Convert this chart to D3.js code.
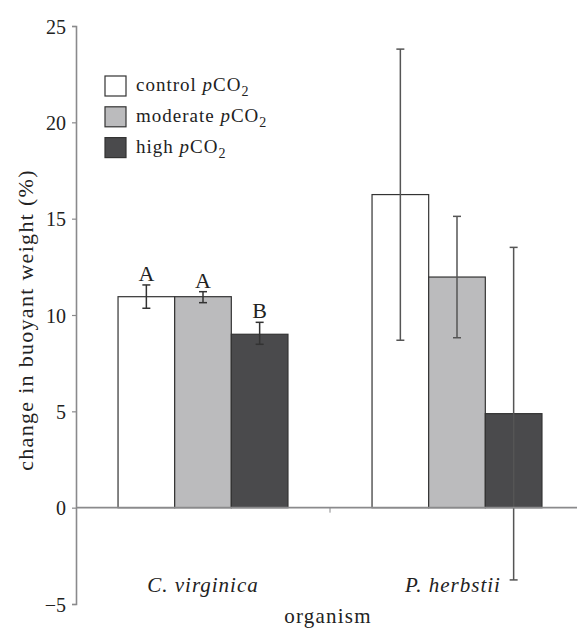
<!DOCTYPE html>
<html>
<head>
<meta charset="utf-8">
<script src="https://cdn.jsdelivr.net/npm/d3@7"></script>
<style>
  body { margin: 0; background: #fff; }
  text { font-family: "Liberation Serif", "Times New Roman", serif; fill: #222; }
</style>
</head>
<body>
<div id="chart"></div>
<script>
// data
const organisms = ["C. virginica", "P. herbstii"];
const treatments = ["control", "moderate", "high"];
const means = [
  [10.95, 10.95, 9.0],
  [16.25, 11.97, 4.88]
];
const errLow = [
  [10.35, 10.64, 8.48],
  [8.69, 8.82, -3.75]
];
const errHigh = [
  [11.56, 11.21, 9.62],
  [23.8, 15.12, 13.51]
];
const letters = [["A", "A", "B"], ["", "", ""]];
const yTicks = [-5, 0, 5, 10, 15, 20, 25];

const fills = { control: "#ffffff", moderate: "#bbbbbd", high: "#4a4a4c" };

const width = 577, height = 630;

const svg = d3.select("#chart").append("svg")
  .attr("width", width)
  .attr("height", height);

// scales
const y = d3.scaleLinear().domain([-5, 25]).range([604, 26]);
const x0 = d3.scaleBand().domain(organisms).range([76, 584])
  .paddingInner(0.331).paddingOuter(0.1655);
const x1 = d3.scaleBand().domain(treatments).range([0, x0.bandwidth()]);

// y axis
const yAxis = svg.append("g")
  .attr("transform", "translate(76,0)")
  .call(d3.axisLeft(y).tickValues(yTicks).tickSize(4).tickPadding(6)
    .tickFormat(d => d < 0 ? "\u2212" + Math.abs(d) : d));
yAxis.attr("font-family", null);
yAxis.select(".domain").attr("stroke", "#8a8a8c").attr("stroke-width", 1.6);
yAxis.selectAll(".tick line").attr("stroke", "#8a8a8c").attr("stroke-width", 1.2);
yAxis.selectAll(".tick text")
  .style("font-size", "20px").attr("fill", "#222").attr("dy", "0.36em");

// bars
const groups = svg.selectAll("g.org").data(organisms).join("g")
  .attr("class", "org")
  .attr("transform", d => "translate(" + x0(d) + ",0)");

groups.each(function (org, i) {
  const g = d3.select(this);
  const rows = treatments.map((t, j) => ({ t: t, v: means[i][j] }));

  g.selectAll("rect").data(rows).join("rect")
    .attr("x", d => x1(d.t))
    .attr("width", x1.bandwidth())
    .attr("y", d => y(d.v))
    .attr("height", d => y(0) - y(d.v))
    .attr("fill", d => fills[d.t])
    .attr("stroke", "#333")
    .attr("stroke-width", 1.2);
});

// x axis line at zero
svg.append("line")
  .attr("x1", 76).attr("x2", width)
  .attr("y1", y(0)).attr("y2", y(0))
  .attr("stroke", "#8a8a8c").attr("stroke-width", 1.6);
// separator tick between groups
const mid = (x0(organisms[0]) + x0.bandwidth() + x0(organisms[1])) / 2;
svg.append("line")
  .attr("x1", mid).attr("x2", mid)
  .attr("y1", y(0)).attr("y2", y(0) + 5)
  .attr("stroke", "#8a8a8c").attr("stroke-width", 1);

// error bars + letters
groups.each(function (org, i) {
  const g = d3.select(this);
  const col = i === 0 ? "#333" : "#555";
  treatments.forEach((t, j) => {
    const cx = x1(t) + x1.bandwidth() / 2;
    const lo = y(errLow[i][j]), hi = y(errHigh[i][j]);
    g.append("line").attr("x1", cx).attr("x2", cx).attr("y1", lo).attr("y2", hi)
      .attr("stroke", col).attr("stroke-width", 1.5);
    [lo, hi].forEach(yy => {
      g.append("line").attr("x1", cx - 4).attr("x2", cx + 4).attr("y1", yy).attr("y2", yy)
        .attr("stroke", col).attr("stroke-width", 1.5);
    });
    if (letters[i][j]) {
      g.append("text").attr("x", cx).attr("y", hi - 4)
        .attr("text-anchor", "middle")
        .style("font-size", "22px")
        .text(letters[i][j]);
    }
  });
});

// category labels
svg.selectAll("text.cat").data(organisms).join("text")
  .attr("class", "cat")
  .attr("x", (d, i) => x0(d) + x0.bandwidth() / 2 - (i === 1 ? 4 : 0))
  .attr("y", 592)
  .attr("text-anchor", "middle")
  .style("font-size", "21px")
  .style("letter-spacing", "1px")
  .style("font-style", "italic")
  .text(d => d);

// axis titles
svg.append("text")
  .attr("x", 328).attr("y", 623)
  .attr("text-anchor", "middle")
  .style("font-size", "21px")
  .style("letter-spacing", "1.2px")
  .text("organism");

svg.append("text")
  .attr("transform", "translate(33,320) rotate(-90)")
  .attr("text-anchor", "middle")
  .style("font-size", "22px")
  .style("letter-spacing", "1.3px")
  .text("change in buoyant weight (%)");

// legend
const legendNames = { control: "control ", moderate: "moderate ", high: "high " };
const legend = svg.append("g").attr("transform", "translate(105,76)");
treatments.forEach((t, j) => {
  const row = legend.append("g").attr("transform", "translate(0," + (j * 30.8) + ")");
  row.append("rect").attr("width", 21).attr("height", 20)
    .attr("fill", fills[t]).attr("stroke", "#333").attr("stroke-width", 1.2);
  const tx = row.append("text").attr("x", 31).attr("y", 15)
    .style("font-size", "19px").style("letter-spacing", "1px");
  tx.append("tspan").text(legendNames[t]);
  tx.append("tspan").style("font-style", "italic").text("p");
  tx.append("tspan").text("CO");
  tx.append("tspan").attr("dy", 5).style("font-size", "14px").text("2");
});
</script>
</body>
</html>
